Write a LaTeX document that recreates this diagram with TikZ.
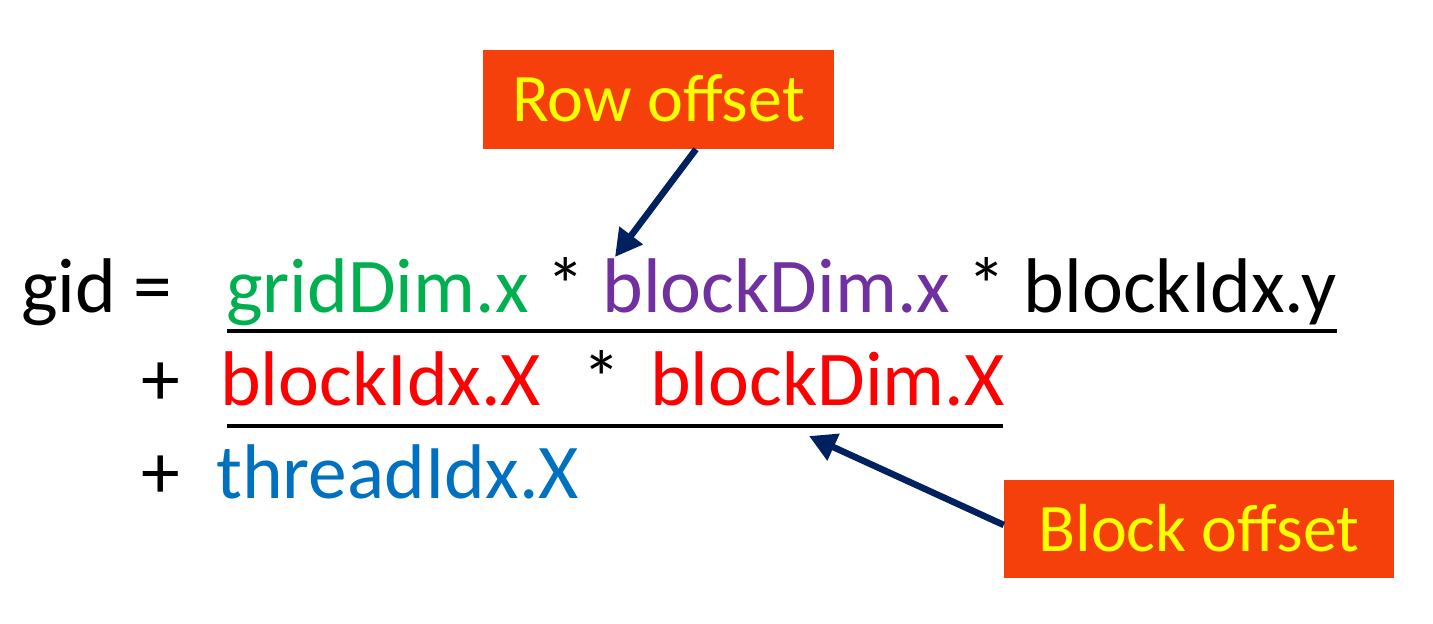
\documentclass[tikz,border=0pt]{standalone}
\usepackage{fontspec}
\setmainfont{Carlito}
\usetikzlibrary{arrows.meta}
\definecolor{cgreen}{RGB}{0,176,80}
\definecolor{cpurple}{RGB}{112,48,160}
\definecolor{cred}{RGB}{255,0,0}
\definecolor{cblue}{RGB}{0,112,192}
\definecolor{cnavy}{RGB}{0,32,96}
\definecolor{corange}{RGB}{246,64,12}
\definecolor{cyellow}{RGB}{255,255,0}
\tikzset{
  eq/.style={inner sep=0pt, anchor=base west, font=\fontsize{77.5}{90}\selectfont},
  labelbox/.style={fill=corange, text=cyellow, inner sep=0pt, font=\fontsize{68}{80}\selectfont, text height=44pt, text depth=0pt},
  arr/.style={draw=cnavy, line width=6.5pt, -{Triangle[length=27pt,width=28pt]}},
  uline/.style={draw=black, line width=4.5pt}
}
\begin{document}
\begin{tikzpicture}[x=1pt,y=-1pt]
\useasboundingbox (0,0) rectangle (1433,624);
% equation
\node[eq] (gid) at (21,312) {gid =};
\node[eq] (row1) at (226,312) {\textcolor{cgreen}{gridDim.x} * \textcolor{cpurple}{blockDim.x} * blockIdx.y};
\node[eq] (plus2) at (141,405) {+};
\node[eq, text=cred] (bidx) at (220,405) {blockIdx.X};
\node[eq] (star2) at (582,405) {*};
\node[eq, text=cred] (bdim) at (650,405) {blockDim.X};
\node[eq] (plus3) at (141,498) {+};
\node[eq, text=cblue] (tidx) at (216,498) {threadIdx.X};
% underlines
\draw[uline] (227,331) -- (1337,331);
\draw[uline] (227,426) -- (1003,426);
% labels
\node[labelbox, minimum width=351pt, minimum height=99pt] (rowbox) at (658.5,99.5) {Row offset};
\node[labelbox, minimum width=390pt, minimum height=98pt] (blockbox) at (1199,529) {Block offset};
% arrows
\coordinate (rowtip) at (615,257);
\coordinate (blocktip) at (809,436);
\draw[arr] ([xshift=37.5pt]rowbox.south) -- (rowtip);
\draw[arr] ([yshift=4pt]blockbox.west) -- (blocktip);
\end{tikzpicture}
\end{document}
